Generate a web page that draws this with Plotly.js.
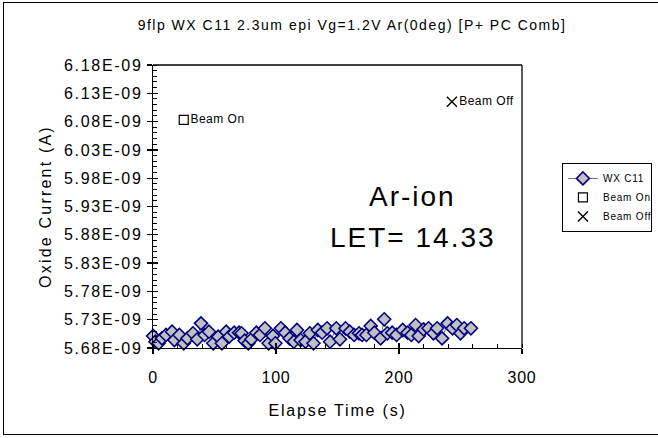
<!DOCTYPE html>
<html>
<head>
<meta charset="utf-8">
<script src="https://cdn.plot.ly/plotly-3.0.1.min.js"></script>
<style>
  html, body { margin: 0; padding: 0; background: #fff; }
  #wrap { position: relative; width: 658px; height: 438px; overflow: hidden; }
  #chart { width: 658px; height: 438px; }
  #frame { position: absolute; left: 3px; top: 2px; width: 700px; height: 431px;
           border: 1px solid #000; pointer-events: none; }
  /* wide, evenly tracked lettering */
  #chart .gtitle { letter-spacing: 1.5px; }
  #chart .ytick text { letter-spacing: 1.7px; }
  #chart .xtick text { letter-spacing: 0.8px; }
  #chart .g-xtitle text { letter-spacing: 1.8px; }
  #chart .g-ytitle text { letter-spacing: 2.2px; }
  #chart .annotation-text { letter-spacing: 2px; }
  #chart .legendtext { letter-spacing: 0.8px; }
  #chart .textpoint text { letter-spacing: 0.5px; }
</style>
</head>
<body>
<div id="wrap"><div id="chart"></div><div id="frame"></div></div>
<script>
// Oxide current log (nA) versus elapsed time (s)
const timeS = [0.1, 2, 4.6, 7.3, 10.6, 15.5, 17.4, 21.5, 25, 28, 32.5, 36, 39, 42, 45.5, 49, 53, 56, 59.5, 62,
  66, 70, 72, 74.5, 77.5, 80, 84, 87, 91, 94, 97.5, 99.5, 104, 107.5, 111, 114.5, 117, 120, 124, 127.5,
  130.5, 134, 137.5, 141.5, 144, 149, 152, 156.5, 160, 163.5, 167.5, 170, 173.5, 177, 180, 185, 188, 190.5,
  194.5, 198, 203, 207, 210, 213.5, 216, 220, 224, 228, 231, 235, 239.5, 243.5, 247, 250, 253, 258.5];
const currentNA = [5.7012, 5.6911, 5.6883, 5.6971, 5.7030, 5.7088, 5.6941, 5.7030, 5.6883, 5.6971, 5.7060,
  5.6954, 5.7236, 5.7030, 5.7088, 5.6883, 5.7000, 5.6883, 5.7088, 5.7000, 5.7070, 5.7070, 5.7060, 5.6929,
  5.6883, 5.6954, 5.7070, 5.7030, 5.7148, 5.6883, 5.7012, 5.6883, 5.7148, 5.7070, 5.6971, 5.6911, 5.7118,
  5.6941, 5.6911, 5.7060, 5.6883, 5.7118, 5.7070, 5.7148, 5.6911, 5.7148, 5.6954, 5.7148, 5.7088, 5.7030,
  5.7060, 5.7030, 5.7030, 5.7189, 5.7070, 5.6971, 5.7307, 5.7060, 5.7070, 5.7030, 5.7118, 5.7070, 5.7030,
  5.7206, 5.7012, 5.7130, 5.7148, 5.7060, 5.7148, 5.6971, 5.7236, 5.7148, 5.7206, 5.7060, 5.7148, 5.7148];

// Beam event markers (nA)
const beamOnTime = [25];
const beamOnCurrentNA = [6.083];
const beamOffTime = [243];
const beamOffCurrentNA = [6.115];

// Axis ticks
const yTickLabels = ['5.68E-09', '5.73E-09', '5.78E-09', '5.83E-09', '5.88E-09', '5.93E-09',
  '5.98E-09', '6.03E-09', '6.08E-09', '6.13E-09', '6.18E-09'];
const xTickVals = [0, 100, 200, 300];

// labels are in amperes; the plotted scale is nA
const yTickVals = yTickLabels.map(s => Math.round(parseFloat(s) * 1e11) / 100);

const FONT = 'Liberation Sans, Arial, sans-serif';
const NAVY = '#000080';

const traces = [
  {
    x: timeS, y: currentNA, name: 'WX C11', type: 'scatter', mode: 'lines+markers',
    line: { color: NAVY, width: 0.6 },
    marker: { symbol: 'diamond', size: 10, color: '#c0c0c0', line: { color: NAVY, width: 1.6 } },
    cliponaxis: false
  },
  {
    x: beamOnTime, y: beamOnCurrentNA, name: 'Beam On', type: 'scatter', mode: 'markers+text',
    text: ['Beam On'], textposition: 'middle right', textfont: { family: FONT, size: 12, color: '#000' },
    marker: { symbol: 'square-open', size: 9, color: '#000', line: { width: 1.2 } }
  },
  {
    x: beamOffTime, y: beamOffCurrentNA, name: 'Beam Off', type: 'scatter', mode: 'markers+text',
    text: ['Beam Off'], textposition: 'middle right', textfont: { family: FONT, size: 12, color: '#000' },
    marker: { symbol: 'x-thin-open', size: 10, color: '#000', line: { width: 1.4, color: '#000' } },
    cliponaxis: false
  },
  // companion axes carry the inward half of the crossing major ticks
  { x: [0], y: [yTickVals[0]], xaxis: 'x2', yaxis: 'y2', mode: 'markers', marker: { opacity: 0 },
    showlegend: false, hoverinfo: 'skip' }
];

const yRange = [yTickVals[0], yTickVals[yTickVals.length - 1]];

const layout = {
  width: 658, height: 438,
  margin: { l: 153, r: 136, t: 65, b: 90 },
  paper_bgcolor: '#fff', plot_bgcolor: '#fff',
  font: { family: FONT, color: '#000' },
  title: {
    text: '9flp WX C11 2.3um epi Vg=1.2V Ar(0deg) [P+ PC Comb]',
    font: { family: FONT, size: 14, color: '#000' },
    x: 0.535, xref: 'container', y: 0.943, yref: 'container', xanchor: 'center', yanchor: 'middle'
  },
  xaxis: {
    range: [0, 300], tickvals: xTickVals, ticks: 'outside', ticklen: 5, tickwidth: 1.3, tickcolor: '#000',
    showline: true, linecolor: '#000', linewidth: 1.3, showgrid: false, zeroline: false,
    tickfont: { family: FONT, size: 16 }, ticklabelstandoff: 9,
    minor: { dtick: 20, ticks: 'inside', ticklen: 4, tickcolor: '#000', tickwidth: 1, showgrid: false },
    title: { text: 'Elapse Time (s)', font: { family: FONT, size: 16 }, standoff: 20 }
  },
  yaxis: {
    range: yRange, tickvals: yTickVals, ticktext: yTickLabels,
    ticks: 'outside', ticklen: 5, tickwidth: 1.3, tickcolor: '#000',
    showline: true, linecolor: '#000', linewidth: 1.3, showgrid: false, zeroline: false,
    tickfont: { family: FONT, size: 16 }, ticklabelstandoff: 1,
    minor: { dtick: 0.01, tick0: 5.68, ticks: 'inside', ticklen: 4, tickcolor: '#000', tickwidth: 1, showgrid: false },
    title: { text: 'Oxide Current (A)', font: { family: FONT, size: 16 }, standoff: 22 }
  },
  xaxis2: {
    overlaying: 'x', range: [0, 300], tickvals: xTickVals, ticks: 'inside', ticklen: 5, tickwidth: 1.3,
    tickcolor: '#000', showticklabels: false, showgrid: false, zeroline: false, showline: false, side: 'bottom'
  },
  yaxis2: {
    overlaying: 'y', range: yRange, tickvals: yTickVals, ticks: 'inside', ticklen: 5,
    tickwidth: 1.3, tickcolor: '#000', showticklabels: false, showgrid: false, zeroline: false,
    showline: false, side: 'left'
  },
  shapes: [
    { type: 'line', xref: 'paper', yref: 'paper', x0: 0, x1: 1, y0: 1, y1: 1, line: { color: '#000', width: 1.3 } },
    { type: 'line', xref: 'paper', yref: 'paper', x0: 1, x1: 1, y0: 0, y1: 1, line: { color: '#000', width: 1.3 } }
  ],
  annotations: [
    { x: 211, y: 5.947, xref: 'x', yref: 'y', text: 'Ar-ion', showarrow: false,
      font: { family: FONT, size: 28, color: '#000' } },
    { x: 211, y: 5.876, xref: 'x', yref: 'y', text: 'LET= 14.33', showarrow: false,
      font: { family: FONT, size: 28, color: '#000' } }
  ],
  showlegend: true,
  legend: {
    xref: 'container', yref: 'container',
    x: 0.854, xanchor: 'left', y: 0.628, yanchor: 'top',
    bgcolor: '#fff', bordercolor: '#000', borderwidth: 1,
    font: { family: FONT, size: 10, color: '#000' },
    itemwidth: 30, tracegroupgap: 0
  }
};

Plotly.newPlot('chart', traces, layout, { displayModeBar: false, staticPlot: true });
</script>
</body>
</html>
